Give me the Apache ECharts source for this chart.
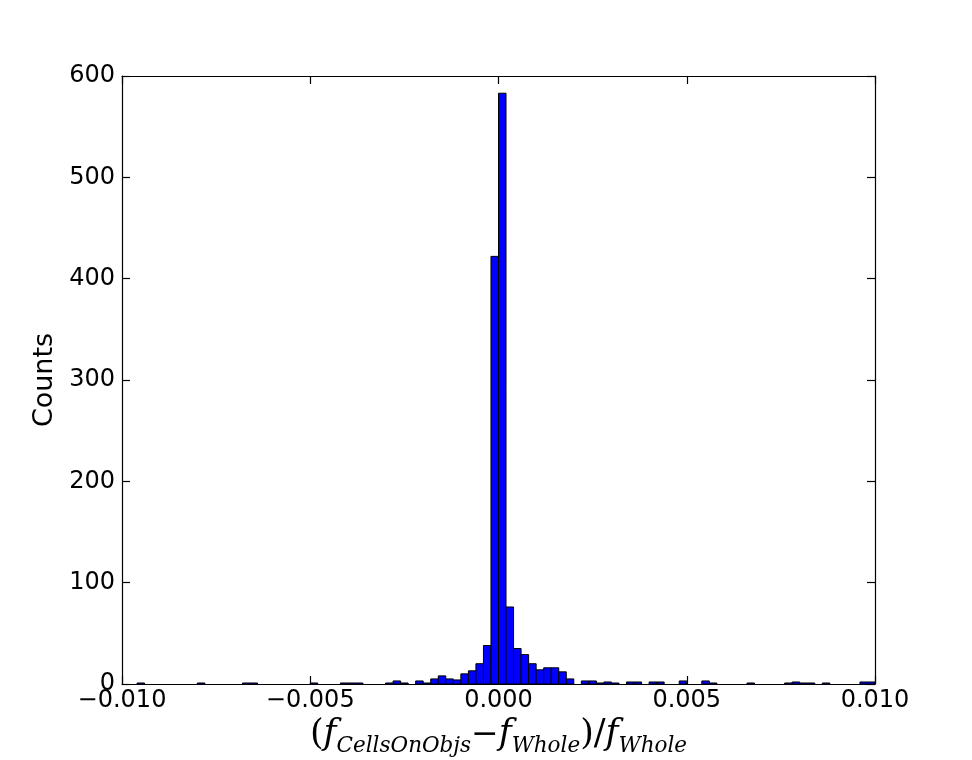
<!DOCTYPE html>
<html>
<head>
<meta charset="utf-8">
<script src="https://cdn.jsdelivr.net/npm/echarts@6/dist/echarts.min.js"></script>
<style>
  html, body { margin: 0; padding: 0; background: #fff; }
  #chart { width: 972px; height: 760px; }
</style>
</head>
<body>
<div id="chart"></div>
<script>
// histogram: 100 bins between -0.01 and 0.01
var binStart = -0.01;
var binWidth = 0.0002;
var counts = [
  0, 0, 1, 0, 0, 0, 0, 0, 0, 0,
  1, 0, 0, 0, 0, 0, 1, 1, 0, 0,
  0, 0, 0, 0, 0, 1, 0, 0, 0, 1,
  1, 1, 0, 0, 0, 1, 3, 1, 0, 3,
  1, 5, 8, 5, 4, 10, 13, 20, 38, 422,
  583, 76, 35, 29, 20, 14, 16, 16, 12, 5,
  0, 3, 3, 1, 2, 1, 0, 2, 2, 0,
  2, 2, 0, 0, 3, 0, 0, 3, 1, 0,
  0, 0, 0, 1, 0, 0, 0, 0, 1, 2,
  1, 1, 0, 1, 0, 0, 0, 0, 2, 2
];
var xTicks = [-0.01, 0.01, 0.005];   // min, max, step
var yTicks = [0, 600, 100];

var bins = [];
counts.forEach(function(c, i){
  bins.push([binStart + i * binWidth, binStart + (i + 1) * binWidth, c]);
});

var tickFont = 'DejaVu Sans';
var mathFont = 'DejaVu Serif';

function fmtX(v){
  var s = v.toFixed(3);
  if (s === '-0.000') s = '0.000';
  return s.replace('-', '\u2212');
}

var chart = echarts.init(document.getElementById('chart'));

var axisLine = { show: true, onZero: false, lineStyle: { color: '#000', width: 1.2 } };
var axisTick = { show: true, inside: true, length: 8, lineStyle: { color: '#000', width: 1.2 } };

chart.setOption({
  animation: false,
  backgroundColor: '#fff',
  grid: { left: 122, right: 97, top: 76, bottom: 76, containLabel: false, outerBoundsMode: 'none' },
  xAxis: [{
    type: 'value',
    min: xTicks[0], max: xTicks[1], interval: xTicks[2],
    axisLine: axisLine, axisTick: axisTick, splitLine: { show: false },
    axisLabel: { formatter: fmtX, fontFamily: tickFont, fontSize: 24, color: '#000', margin: 5 },
    name: '{p|(}{f|f}{s|CellsOnObjs}{m|\u2212}{f|f}{s|Whole}{p|)/}{f|f}{s|Whole}',
    nameLocation: 'middle',
    nameGap: 29,
    nameTextStyle: {
      rich: {
        p: { fontFamily: mathFont, fontSize: 35, color: '#000', lineHeight: 44, verticalAlign: 'middle' },
        m: { fontFamily: mathFont, fontSize: 33, color: '#000', lineHeight: 44, verticalAlign: 'middle' },
        f: { fontFamily: mathFont, fontStyle: 'italic', fontSize: 35, color: '#000', lineHeight: 44, verticalAlign: 'middle' },
        s: { fontFamily: mathFont, fontStyle: 'italic', fontSize: 21.5, color: '#000', lineHeight: 21, verticalAlign: 'bottom' }
      }
    }
  }, {
    type: 'value', position: 'top',
    min: xTicks[0], max: xTicks[1], interval: xTicks[2],
    axisLine: axisLine, axisTick: axisTick, axisLabel: { show: false }, splitLine: { show: false }
  }],
  yAxis: [{
    type: 'value',
    min: yTicks[0], max: yTicks[1], interval: yTicks[2],
    axisLine: axisLine, axisTick: axisTick, splitLine: { show: false },
    axisLabel: { fontFamily: tickFont, fontSize: 24, color: '#000', margin: 7 },
    name: 'Counts',
    nameLocation: 'middle',
    nameGap: 57,
    nameTextStyle: { fontFamily: tickFont, fontSize: 27, color: '#000' }
  }, {
    type: 'value', position: 'right',
    min: yTicks[0], max: yTicks[1], interval: yTicks[2],
    axisLine: axisLine, axisTick: axisTick, axisLabel: { show: false }, splitLine: { show: false }
  }],
  series: [{
    type: 'custom',
    clip: true,
    encode: { x: [0, 1], y: 2 },
    data: bins,
    renderItem: function(params, api){
      if (api.value(2) <= 0) return;
      var p0 = api.coord([api.value(0), api.value(2)]);
      var p1 = api.coord([api.value(1), 0]);
      return {
        type: 'rect',
        shape: { x: p0[0], y: p0[1], width: p1[0] - p0[0], height: p1[1] - p0[1] },
        style: { fill: '#0000ff', stroke: '#000', lineWidth: 1 }
      };
    }
  }]
});
</script>
</body>
</html>
